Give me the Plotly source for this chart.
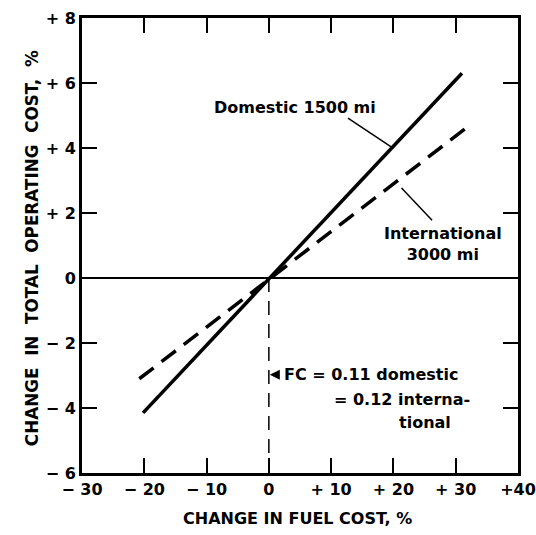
import plotly.graph_objects as go

# Data
dom_x = [-20.2, 31.0]
dom_y = [-4.15, 6.3]
intl_x = [-20.8, 32.6]
intl_y = [-3.1, 4.75]
fc_x = [0, 0]
fc_y = [0, -6]

x_ticks = [-30, -20, -10, 0, 10, 20, 30, 40]
x_labels = ["\u2212 30", "\u2212 20", "\u2212 10", "0", "+ 10", "+ 20", "+ 30", "+40"]
y_ticks = [-6, -4, -2, 0, 2, 4, 6, 8]
y_labels = ["\u2212 6", "\u2212 4", "\u2212 2", "0", "+ 2", "+ 4", "+ 6", "+ 8"]

FONT = "DejaVu Sans"
tf = dict(family=FONT, size=16, color="black", weight="bold")
lf = dict(family=FONT, size=16, color="black", weight="bold")

fig = go.Figure()
fig.add_trace(go.Scatter(x=dom_x, y=dom_y, mode="lines",
                         line=dict(color="black", width=3.5), showlegend=False))
fig.add_trace(go.Scatter(x=intl_x, y=intl_y, mode="lines",
                         line=dict(color="black", width=3.5, dash="18px,10px"), showlegend=False))
fig.add_trace(go.Scatter(x=fc_x, y=fc_y, mode="lines",
                         line=dict(color="black", width=1.5, dash="14px,9px"), showlegend=False))

fig.update_xaxes(range=[-30, 40], tickvals=x_ticks, ticktext=x_labels,
                 ticks="inside", ticklen=15, tickwidth=2, tickcolor="black",
                 showline=True, linecolor="black", linewidth=3, mirror="ticks",
                 showgrid=False, zeroline=False, tickfont=tf,
                 ticklabeloverflow="allow", automargin=False)
fig.update_yaxes(range=[-6, 8], tickvals=y_ticks, ticktext=y_labels,
                 ticks="inside", ticklen=15, tickwidth=2, tickcolor="black",
                 showline=True, linecolor="black", linewidth=3, mirror="ticks",
                 showgrid=False, zeroline=True, zerolinecolor="black", zerolinewidth=1.5,
                 tickfont=tf, ticklabeloverflow="allow", automargin=False)

ann = []
ann.append(dict(x=-9.1, y=5.26, text="Domestic 1500 mi", showarrow=False,
                font=lf, xanchor="left"))
ann.append(dict(x=28, y=1.05, text="International<br>3000 mi", showarrow=False,
                font=lf, xanchor="center"))
ann.append(dict(x=2.1, y=-2.98, text="FC = 0.11 domestic", showarrow=False,
                font=lf, xanchor="left"))
ann.append(dict(x=10.1, y=-3.75, text="= 0.12 interna-", showarrow=False,
                font=lf, xanchor="left"))
ann.append(dict(x=20.5, y=-4.45, text="tional", showarrow=False,
                font=lf, xanchor="left"))
# arrow for FC
ann.append(dict(x=0.15, y=-2.98, ax=1.9, ay=-2.98, axref="x", ayref="y",
                xref="x", yref="y", text="", showarrow=True,
                arrowhead=2, arrowsize=1, arrowwidth=2, arrowcolor="black"))
# axis titles
ann.append(dict(xref="paper", yref="paper", x=0.495, y=-0.099, yanchor="middle",
                text="CHANGE IN FUEL COST, %", showarrow=False,
                font=dict(family=FONT, size=16, color="black", weight="bold")))
ann.append(dict(xref="paper", x=-0.142, yref="y", y=0.92, textangle=-90,
                text="CHANGE  IN  TOTAL  OPERATING  COST,  %", showarrow=False,
                font=dict(family=FONT, size=16.8, color="black", weight="bold")))
fig.update_layout(annotations=ann)

# leader lines
fig.add_shape(type="line", x0=12.7, y0=4.92, x1=19.7, y1=4.03,
              line=dict(color="black", width=1.5))
fig.add_shape(type="line", x0=21.3, y0=2.77, x1=26.2, y1=1.78,
              line=dict(color="black", width=1.5))

fig.update_layout(width=536, height=535,
                  margin=dict(l=82, r=18, t=18, b=62, autoexpand=False),
                  paper_bgcolor="white", plot_bgcolor="white")

fig.write_html("out.html")
